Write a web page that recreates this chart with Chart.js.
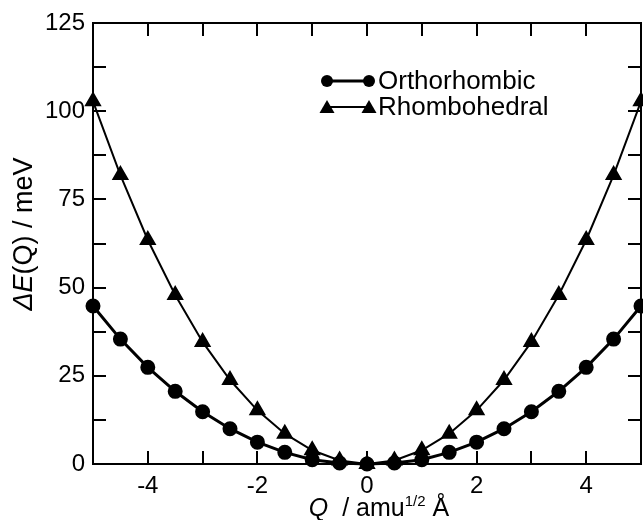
<!DOCTYPE html>
<html>
<head>
<meta charset="utf-8">
<script src="https://cdn.jsdelivr.net/npm/chart.js@4.4.1/dist/chart.umd.min.js"></script>
<style>
  html, body { margin: 0; padding: 0; background: #fff; }
  #wrap { width: 643px; height: 520px; }
</style>
</head>
<body>
<div id="wrap"><canvas id="chart" width="643" height="520"></canvas></div>
<script>
// displacement Q (amu^1/2 Å) and energy (meV)
var qValues = [-5, -4.5, -4, -3.5, -3, -2.5, -2, -1.5, -1, -0.5, 0, 0.5, 1, 1.5, 2, 2.5, 3, 3.5, 4, 4.5, 5];
var orthoE = [44.8, 35.4, 27.4, 20.6, 14.8, 10.0, 6.2, 3.3, 1.2, 0.3, 0, 0.3, 1.2, 3.3, 6.2, 10.0, 14.8, 20.6, 27.4, 35.4, 44.8];
var rhomboE = [102.8, 81.9, 63.5, 47.9, 34.6, 23.8, 15.2, 8.6, 3.9, 1.0, 0, 1.0, 3.9, 8.6, 15.2, 23.8, 34.6, 47.9, 63.5, 81.9, 102.8];
var seriesNames = ['Orthorhombic', 'Rhombohedral'];
var xLabeled = [-4, -2, 0, 2, 4];
var yLabeled = [0, 25, 50, 75, 100, 125];

var FONT = '"Liberation Sans", Arial, sans-serif';
var PLOT_RIGHT_GAP = 2;

function toPoints(ys) {
    return qValues.map(function (q, i) { return { x: q, y: ys[i] }; });
}

// stretch the plot to the right edge of the canvas
var edgePlugin = {
    id: 'edge',
    afterLayout: function (chart) {
        var r = chart.width - PLOT_RIGHT_GAP;
        var xs = chart.scales.x;
        xs.right = r;
        xs.width = r - xs.left;
        xs.configure();
        chart.chartArea.right = r;
        chart.chartArea.width = r - chart.chartArea.left;
    }
};

// box, inward ticks on all four sides, axis titles and legend
var framePlugin = {
    id: 'frame',
    afterDraw: function (chart) {
        var ctx = chart.ctx;
        var a = chart.chartArea;
        var xs = chart.scales.x, ys = chart.scales.y;
        var tl = 13;
        ctx.save();
        ctx.strokeStyle = '#000';
        ctx.lineWidth = 2;
        ctx.beginPath();
        xs.ticks.forEach(function (t) {
            var px = Math.round(xs.getPixelForValue(t.value));
            if (px <= a.left + 1 || px >= a.right - 1) return;
            ctx.moveTo(px, a.bottom); ctx.lineTo(px, a.bottom - tl);
            ctx.moveTo(px, a.top); ctx.lineTo(px, a.top + tl);
        });
        ys.ticks.forEach(function (t) {
            var py = Math.round(ys.getPixelForValue(t.value));
            if (py <= a.top + 1 || py >= a.bottom - 1) return;
            ctx.moveTo(a.left, py); ctx.lineTo(a.left + tl, py);
            ctx.moveTo(a.right, py); ctx.lineTo(a.right - tl, py);
        });
        ctx.stroke();
        ctx.strokeRect(a.left, a.top, a.right - a.left, a.bottom - a.top);

        // x title: Q / amu^1/2 Å
        ctx.fillStyle = '#000';
        ctx.textBaseline = 'alphabetic';
        ctx.textAlign = 'left';
        var parts = [
            { t: 'Q', f: 'italic 25px ' + FONT, dy: 0 },
            { t: '  / amu', f: '25px ' + FONT, dy: 0 },
            { t: '1/2', f: '15px ' + FONT, dy: -10 },
            { t: ' Å', f: '25px ' + FONT, dy: 0 }
        ];
        var total = 0;
        parts.forEach(function (p) { ctx.font = p.f; p.w = ctx.measureText(p.t).width; total += p.w; });
        var x = 379 - total / 2;
        parts.forEach(function (p) {
            ctx.font = p.f;
            ctx.fillText(p.t, x, 516 + p.dy);
            x += p.w;
        });

        // y title: ΔE(Q) / meV
        ctx.save();
        ctx.translate(32, 234);
        ctx.rotate(-Math.PI / 2);
        var yparts = [
            { t: 'ΔE', f: 'italic 27px ' + FONT },
            { t: '(Q) / meV', f: '27px ' + FONT }
        ];
        total = 0;
        yparts.forEach(function (p) { ctx.font = p.f; p.w = ctx.measureText(p.t).width; total += p.w; });
        x = -total / 2;
        yparts.forEach(function (p) {
            ctx.font = p.f;
            ctx.fillText(p.t, x, 0);
            x += p.w;
        });
        ctx.restore();

        // legend: line with a marker at each end
        ctx.font = '26px ' + FONT;
        ctx.textBaseline = 'middle';
        chart.data.datasets.forEach(function (ds, i) {
            var ly = 81 + i * 26;
            var x0 = 327, x1 = 369;
            ctx.strokeStyle = '#000';
            ctx.lineWidth = ds.borderWidth;
            ctx.beginPath();
            ctx.moveTo(x0, ly); ctx.lineTo(x1, ly);
            ctx.stroke();
            [x0, x1].forEach(function (mx) {
                ctx.beginPath();
                if (ds.pointStyle === 'triangle') {
                    ctx.moveTo(mx, ly - 7);
                    ctx.lineTo(mx + 7.5, ly + 6);
                    ctx.lineTo(mx - 7.5, ly + 6);
                    ctx.closePath();
                } else {
                    ctx.arc(mx, ly, 6, 0, Math.PI * 2);
                }
                ctx.fill();
            });
            ctx.fillText(ds.label, 378, ly + 1);
        });
        ctx.restore();
    }
};

new Chart(document.getElementById('chart'), {
    type: 'scatter',
    data: {
        datasets: [
            {
                label: seriesNames[0],
                data: toPoints(orthoE),
                showLine: true,
                borderColor: '#000',
                backgroundColor: '#000',
                borderWidth: 3,
                pointStyle: 'circle',
                pointRadius: 6,
                pointHoverRadius: 6
            },
            {
                label: seriesNames[1],
                data: toPoints(rhomboE),
                showLine: true,
                borderColor: '#000',
                backgroundColor: '#000',
                borderWidth: 2,
                pointStyle: 'triangle',
                pointRadius: 8,
                pointHoverRadius: 8
            }
        ]
    },
    options: {
        responsive: false,
        animation: false,
        clip: false,
        layout: { autoPadding: false, padding: { top: 23, right: PLOT_RIGHT_GAP, left: 0, bottom: 0 } },
        plugins: { legend: { display: false }, tooltip: { enabled: false } },
        scales: {
            x: {
                type: 'linear',
                min: -5, max: 5,
                grid: { display: false, drawTicks: false },
                border: { display: false },
                ticks: {
                    stepSize: 1,
                    padding: 8,
                    color: '#000',
                    font: { family: FONT, size: 24 },
                    maxRotation: 0,
                    autoSkip: false,
                    callback: function (v) { return xLabeled.indexOf(v) >= 0 ? String(v) : ''; }
                },
                afterFit: function (s) { s.height = 56; }
            },
            y: {
                type: 'linear',
                min: 0, max: 125,
                grid: { display: false, drawTicks: false },
                border: { display: false },
                ticks: {
                    stepSize: 12.5,
                    padding: 8,
                    color: '#000',
                    font: { family: FONT, size: 24 },
                    autoSkip: false,
                    callback: function (v) { return yLabeled.indexOf(v) >= 0 ? String(v) : ''; }
                },
                afterFit: function (s) { s.width = 93; }
            }
        }
    },
    plugins: [edgePlugin, framePlugin]
});
</script>
</body>
</html>
